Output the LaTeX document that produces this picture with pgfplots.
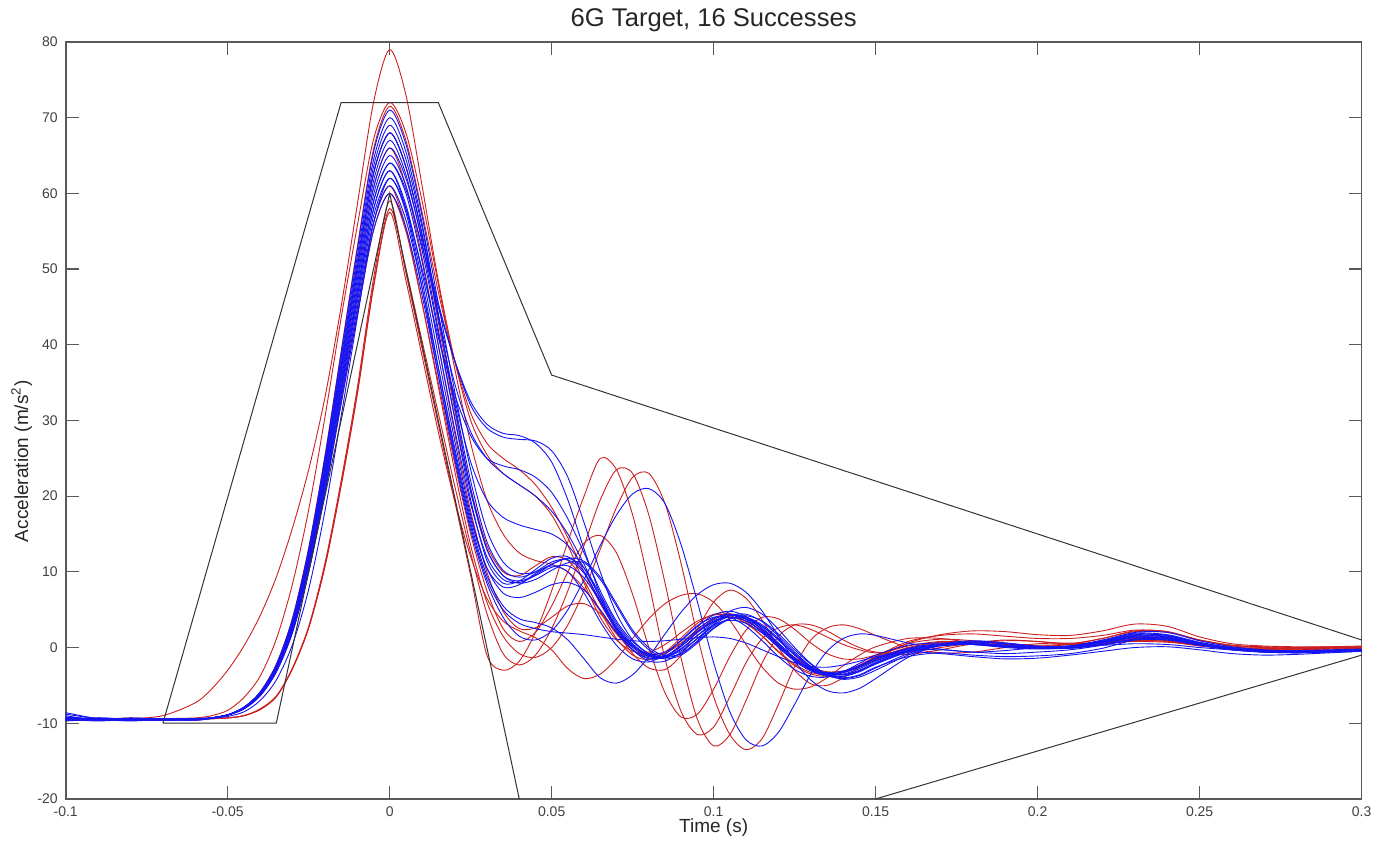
\documentclass[border=0pt]{standalone}
\usepackage{fontspec}
\setmainfont{Liberation Sans}
\usepackage{pgfplots}
\pgfplotsset{compat=1.18}

\definecolor{runblue}{rgb}{0.08,0.08,0.95}
\definecolor{runred}{rgb}{0.80,0.12,0.12}
\definecolor{frame}{gray}{0.35}
\definecolor{corridor}{gray}{0.2}

\pgfplotsset{
  okrun/.style={runblue, line width=0.45pt, smooth, no markers},
  badrun/.style={runred, line width=0.45pt, smooth, no markers},
  limit/.style={corridor, line width=0.5pt, sharp plot, no markers},
}

\begin{document}
\begin{tikzpicture}
\begin{axis}[
  scale only axis,
  width=648.2pt, height=378.6pt,
  xmin=-0.1, xmax=0.3, ymin=-20, ymax=80,
  clip=false,
  axis line style={frame, line width=0.8pt},
  tick style={frame, line width=0.6pt},
  tick align=inside, major tick length=6.5pt,
  xtick={-0.1,-0.05,0,0.05,0.1,0.15,0.2,0.25,0.3},
  xticklabels={-0.1,-0.05,0,0.05,0.1,0.15,0.2,0.25,0.3},
  ytick={-20,-10,0,10,20,30,40,50,60,70,80},
  yticklabels={-20,-10,0,10,20,30,40,50,60,70,80},
  ticklabel style={font=\fontsize{7}{8}\selectfont, text=black!75},
  xticklabel style={yshift=-0.5pt},
  yticklabel style={xshift=-0.5pt},
  title={6G Target, 16 Successes},
  title style={font=\fontsize{12.8}{14}\selectfont, at={(0.5,1)}, anchor=base, yshift=1.6pt, text=black!85},
  xlabel={Time (s)},
  ylabel={Acceleration (m/s\textsuperscript{2})},
  label style={font=\fontsize{9.5}{11}\selectfont, text=black!85},
  xlabel style={at={(axis description cs:0.5,-0.038)}, anchor=center},
  ylabel style={at={(axis description cs:-0.034,0.446)}, anchor=center},
]

% runs outside the corridor
\addplot[badrun] coordinates {
(-0.1,-9.6)(-0.09,-9.5)(-0.08,-9.4)(-0.07,-9.0)(-0.06,-7.3)(-0.055,-5.5)(-0.05,-3)(-0.045,0.2)(-0.04,4.2)(-0.035,9.3)(-0.03,15.8)(-0.025,23.5)(-0.02,33)(-0.015,45)(-0.01,58.5)(-0.005,72)(0,79)
(0.005,73)(0.01,61)(0.015,48.5)(0.02,38)(0.025,30)(0.03,25.5)(0.035,23)(0.04,21.5)(0.045,20)(0.05,17.5)(0.055,13.5)(0.06,8.5)(0.065,4)(0.07,1)(0.075,-0.5)(0.08,-0.6)(0.085,0.4)(0.09,2)(0.095,3.5)
(0.1,4.3)(0.105,4.2)(0.11,3.2)(0.115,1.5)(0.12,-0.5)(0.125,-2.2)(0.13,-3.3)(0.135,-3.6)(0.14,-3.2)(0.145,-2.4)(0.15,-1.4)(0.16,0)(0.17,0.7)(0.18,0.8)(0.19,0.5)(0.2,0.2)(0.21,0.4)(0.22,1.2)(0.23,2.2)(0.24,2.1)(0.25,1)(0.26,0.3)(0.27,0)(0.28,-0.1)(0.29,-0.1)(0.3,0)};
\addplot[badrun] coordinates {
(-0.1,-9.5)(-0.09,-9.6)(-0.08,-9.5)(-0.07,-9.4)(-0.06,-9.3)(-0.055,-9.0)(-0.05,-8.3)(-0.045,-6.6)(-0.04,-3.8)(-0.035,1.1)(-0.03,8.4)(-0.025,18.2)(-0.02,30.4)(-0.015,43.5)(-0.01,55.7)(-0.005,67.1)(0,72)
(0.005,68)(0.01,59)(0.015,48)(0.02,37)(0.025,27)(0.03,19.5)(0.035,15)(0.04,12.5)(0.045,11.5)(0.05,11)(0.055,10)(0.06,7.8)(0.065,4.8)(0.07,1.8)(0.075,-0.3)(0.08,-1.2)(0.085,-0.8)(0.09,0.6)(0.095,2.4)
(0.1,3.8)(0.105,4.3)(0.11,3.8)(0.115,2.4)(0.12,0.5)(0.125,-1.4)(0.13,-2.8)(0.135,-3.4)(0.14,-3.3)(0.145,-2.6)(0.15,-1.6)(0.16,-0.1)(0.17,0.6)(0.18,0.7)(0.19,0.5)(0.2,0.3)(0.21,0.5)(0.22,1.2)(0.23,2.1)(0.24,2.0)(0.25,1.0)(0.26,0.3)(0.27,0.1)(0.28,0)(0.29,0)(0.3,0.1)};
\addplot[badrun] coordinates {
(-0.1,-9.3)(-0.09,-9.5)(-0.08,-9.6)(-0.07,-9.5)(-0.06,-9.5)(-0.055,-9.3)(-0.05,-8.9)(-0.045,-7.9)(-0.04,-5.9)(-0.035,-2.2)(-0.03,3.9)(-0.025,13.2)(-0.02,25.3)(-0.015,39.1)(-0.01,52.9)(-0.005,65.8)(0,71.5)
(0.005,67)(0.01,57.5)(0.015,47)(0.02,38)(0.025,31)(0.03,27)(0.035,25)(0.04,23.5)(0.045,21.5)(0.05,18.5)(0.055,14.5)(0.06,10)(0.065,5.8)(0.07,2.4)(0.075,0.2)(0.08,-0.8)(0.085,-0.6)(0.09,0.6)(0.095,2.2)
(0.1,3.5)(0.105,4)(0.11,3.5)(0.115,2.2)(0.12,0.4)(0.125,-1.3)(0.13,-2.6)(0.135,-3.2)(0.14,-3.1)(0.145,-2.4)(0.15,-1.5)(0.16,0.6)(0.17,1.7)(0.18,2.2)(0.19,2.1)(0.2,1.7)(0.21,1.6)(0.22,2.2)(0.23,3.1)(0.24,2.8)(0.25,1.4)(0.26,0.5)(0.27,0.2)(0.28,0.1)(0.29,0.1)(0.3,0.2)};
\addplot[badrun] coordinates {
(-0.1,-9.4)(-0.09,-9.5)(-0.08,-9.6)(-0.07,-9.5)(-0.06,-9.5)(-0.055,-9.4)(-0.05,-9.3)(-0.045,-9.0)(-0.04,-8.1)(-0.035,-6.4)(-0.03,-2.7)(-0.025,2.8)(-0.02,11.1)(-0.015,22.0)(-0.01,34.3)(-0.005,48.7)(0,59)
(0.005,49.5)(0.01,39.5)(0.015,29.5)(0.02,19.5)(0.025,9.5)(0.03,-1)(0.035,-3)(0.04,-1.8)(0.045,2)(0.05,7.5)(0.055,14)(0.06,20)(0.065,25)(0.07,23.5)(0.075,17.5)(0.08,8.5)(0.085,-1.5)(0.09,-8.5)(0.095,-11.5)
(0.1,-10.5)(0.105,-6.5)(0.11,-2)(0.115,1.2)(0.12,2.6)(0.125,3)(0.13,2.4)(0.135,1.4)(0.14,0.4)(0.145,-0.3)(0.15,-0.7)(0.16,-0.6)(0.17,0)(0.18,0.6)(0.19,1)(0.2,0.8)(0.21,0.5)(0.22,0.7)(0.23,1.2)(0.24,1)(0.25,0.3)(0.26,0)(0.27,-0.1)(0.28,-0.1)(0.29,0)(0.3,0)};
\addplot[badrun] coordinates {
(-0.1,-9.6)(-0.09,-9.4)(-0.08,-9.5)(-0.07,-9.5)(-0.06,-9.5)(-0.055,-9.4)(-0.05,-9.3)(-0.045,-9.0)(-0.04,-8.2)(-0.035,-6.5)(-0.03,-2.8)(-0.025,2.6)(-0.02,10.8)(-0.015,21.5)(-0.01,33.7)(-0.005,47.9)(0,58)
(0.005,50)(0.01,40.5)(0.015,31)(0.02,21.5)(0.025,12.5)(0.03,4.5)(0.035,-0.8)(0.04,-2.3)(0.045,-1)(0.05,2.5)(0.055,7.5)(0.06,13.5)(0.065,19.5)(0.07,23.5)(0.075,23)(0.08,17.5)(0.085,8.5)(0.09,-1.5)(0.095,-9.5)
(0.1,-13)(0.105,-11.5)(0.11,-7)(0.115,-2)(0.12,1.5)(0.125,3)(0.13,3)(0.135,2.2)(0.14,1)(0.145,0)(0.15,-0.6)(0.16,-0.9)(0.17,-0.3)(0.18,0.5)(0.19,0.9)(0.2,0.8)(0.21,0.4)(0.22,0.6)(0.23,1.1)(0.24,0.9)(0.25,0.3)(0.26,-0.1)(0.27,-0.2)(0.28,-0.1)(0.29,0)(0.3,0)};
\addplot[badrun] coordinates {
(-0.1,-9.5)(-0.09,-9.5)(-0.08,-9.3)(-0.07,-9.5)(-0.06,-9.6)(-0.055,-9.3)(-0.05,-8.9)(-0.045,-8.1)(-0.04,-6.3)(-0.035,-3.2)(-0.03,2.1)(-0.025,10.2)(-0.02,20.8)(-0.015,32.8)(-0.01,44.8)(-0.005,56.1)(0,61)
(0.005,55.5)(0.01,45.5)(0.015,34.5)(0.02,23.5)(0.025,13.5)(0.03,6)(0.035,1.5)(0.04,-0.8)(0.045,-1.3)(0.05,0)(0.055,3)(0.06,7.5)(0.065,13)(0.07,18.5)(0.075,22.5)(0.08,23)(0.085,19)(0.09,11)(0.095,1.5)
(0.1,-6.5)(0.105,-11.5)(0.11,-13.5)(0.115,-12)(0.12,-7.5)(0.125,-2.5)(0.13,1)(0.135,2.6)(0.14,3)(0.145,2.5)(0.15,1.6)(0.16,0)(0.17,-0.7)(0.18,-0.6)(0.19,0)(0.2,0.5)(0.21,0.6)(0.22,0.6)(0.23,0.8)(0.24,0.7)(0.25,0.3)(0.26,0)(0.27,-0.1)(0.28,0)(0.29,0.1)(0.3,0.1)};
\addplot[badrun] coordinates {
(-0.1,-9.3)(-0.09,-9.6)(-0.08,-9.5)(-0.07,-9.4)(-0.06,-9.5)(-0.055,-9.3)(-0.05,-8.9)(-0.045,-8.1)(-0.04,-6.4)(-0.035,-3.2)(-0.03,2.0)(-0.025,10.0)(-0.02,20.4)(-0.015,32.2)(-0.01,44.0)(-0.005,55.1)(0,60)
(0.005,55)(0.01,45.5)(0.015,35)(0.02,24.5)(0.025,15)(0.03,7.5)(0.035,2.5)(0.04,0.8)(0.045,2)(0.05,5.5)(0.055,10)(0.06,13.8)(0.065,14.8)(0.07,12.5)(0.075,7)(0.08,0)(0.085,-6)(0.09,-9.2)(0.095,-8.8)
(0.1,-5.5)(0.105,-1.2)(0.11,2.3)(0.115,4)(0.12,3.8)(0.125,2.4)(0.13,0.6)(0.135,-0.8)(0.14,-1.5)(0.145,-1.5)(0.15,-1)(0.16,0.2)(0.17,0.8)(0.18,0.7)(0.19,0.2)(0.2,-0.1)(0.21,0)(0.22,0.5)(0.23,1)(0.24,0.8)(0.25,0.2)(0.26,-0.2)(0.27,-0.3)(0.28,-0.3)(0.29,-0.2)(0.3,-0.1)};
\addplot[badrun] coordinates {
(-0.1,-9.4)(-0.09,-9.5)(-0.08,-9.5)(-0.07,-9.6)(-0.06,-9.5)(-0.055,-9.4)(-0.05,-9.3)(-0.045,-9.0)(-0.04,-8.2)(-0.035,-6.5)(-0.03,-2.8)(-0.025,2.6)(-0.02,10.6)(-0.015,21.3)(-0.01,33.4)(-0.005,47.5)(0,57.5)
(0.005,48.5)(0.01,38.5)(0.015,28.5)(0.02,19.5)(0.025,12)(0.03,6.5)(0.035,3.5)(0.04,2.2)(0.045,1.3)(0.05,-0.3)(0.055,-2.8)(0.06,-4.1)(0.065,-3.5)(0.07,-1.5)(0.075,1.2)(0.08,3.8)(0.085,5.8)(0.09,6.9)(0.095,7.1)
(0.1,6)(0.105,3.6)(0.11,0.4)(0.115,-2.6)(0.12,-4.7)(0.125,-5.5)(0.13,-5.2)(0.135,-4)(0.14,-2.4)(0.145,-1)(0.15,0.1)(0.16,1.2)(0.17,1.2)(0.18,0.6)(0.19,0.1)(0.2,-0.1)(0.21,0)(0.22,0.4)(0.23,0.9)(0.24,0.8)(0.25,0.3)(0.26,-0.1)(0.27,-0.3)(0.28,-0.3)(0.29,-0.2)(0.3,-0.1)};
\addplot[badrun] coordinates {
(-0.1,-9.5)(-0.09,-9.4)(-0.08,-9.6)(-0.07,-9.5)(-0.06,-9.4)(-0.055,-9.3)(-0.05,-8.9)(-0.045,-7.9)(-0.04,-6.0)(-0.035,-2.5)(-0.03,3.3)(-0.025,12.2)(-0.02,23.8)(-0.015,37.0)(-0.01,50.2)(-0.005,62.6)(0,68)
(0.005,63.5)(0.01,54.5)(0.015,43)(0.02,31.5)(0.025,21)(0.03,13.5)(0.035,10)(0.04,9.5)(0.045,10.8)(0.05,12)(0.055,11.5)(0.06,8.8)(0.065,4.8)(0.07,1.2)(0.075,-1)(0.08,-1.6)(0.085,-0.6)(0.09,1.3)(0.095,3.2)
(0.1,4.4)(0.105,4.5)(0.11,3.4)(0.115,1.5)(0.12,-0.6)(0.125,-2.4)(0.13,-3.5)(0.135,-3.8)(0.14,-3.3)(0.145,-2.3)(0.15,-1.2)(0.16,0.8)(0.17,1.6)(0.18,1.8)(0.19,1.5)(0.2,1.2)(0.21,1.2)(0.22,1.6)(0.23,2.3)(0.24,2.1)(0.25,0.9)(0.26,0.2)(0.27,0)(0.28,-0.1)(0.29,0)(0.3,0.1)};
\addplot[badrun] coordinates {
(-0.1,-9.6)(-0.09,-9.5)(-0.08,-9.4)(-0.07,-9.5)(-0.06,-9.5)(-0.055,-9.3)(-0.05,-8.9)(-0.045,-8.0)(-0.04,-6.1)(-0.035,-2.7)(-0.03,3.0)(-0.025,11.6)(-0.02,23.0)(-0.015,35.8)(-0.01,48.6)(-0.005,60.7)(0,66)
(0.005,61)(0.01,51.5)(0.015,40)(0.02,28.5)(0.025,18)(0.03,10)(0.035,4.8)(0.04,2.5)(0.045,2.6)(0.05,4)(0.055,5.5)(0.06,5.8)(0.065,4.5)(0.07,2)(0.075,-0.8)(0.08,-2.7)(0.085,-2.9)(0.09,-1)(0.095,2.5)
(0.1,6)(0.105,7.6)(0.11,6.5)(0.115,3.6)(0.12,0)(0.125,-3)(0.13,-4.8)(0.135,-5)(0.14,-4)(0.145,-2.6)(0.15,-1.3)(0.16,0.5)(0.17,1.1)(0.18,0.9)(0.19,0.4)(0.2,0.1)(0.21,0.2)(0.22,0.7)(0.23,1.4)(0.24,1.3)(0.25,0.5)(0.26,0)(0.27,-0.2)(0.28,-0.2)(0.29,-0.1)(0.3,0)};

% runs inside the corridor
\addplot[okrun] coordinates {
(-0.1,-8.8)(-0.09,-9.4)(-0.08,-9.6)(-0.07,-9.5)(-0.06,-9.4)(-0.055,-9.3)(-0.05,-8.9)(-0.045,-8.0)(-0.04,-6.2)(-0.035,-2.9)(-0.03,2.6)(-0.025,11.1)(-0.02,22.1)(-0.015,34.6)(-0.01,47.1)(-0.005,58.9)(0,64)
(0.005,60.5)(0.01,53)(0.015,45)(0.02,38)(0.025,32.5)(0.03,29.5)(0.035,28.3)(0.04,28)(0.045,27)(0.05,24.5)(0.055,19.5)(0.06,13)(0.065,7)(0.07,2.5)(0.075,0)(0.08,-1.2)(0.085,-1.3)(0.09,-0.2)(0.095,1.6)
(0.1,3.3)(0.105,4.2)(0.11,4)(0.115,2.8)(0.12,1)(0.125,-1)(0.13,-2.6)(0.135,-3.5)(0.14,-3.6)(0.145,-3)(0.15,-2)(0.16,-0.5)(0.17,0.3)(0.18,0.5)(0.19,0.3)(0.2,0)(0.21,0)(0.22,0.6)(0.23,1.4)(0.24,1.2)(0.25,0.4)(0.26,-0.2)(0.27,-0.5)(0.28,-0.5)(0.29,-0.4)(0.3,-0.3)};
\addplot[okrun] coordinates {
(-0.1,-9.6)(-0.09,-9.3)(-0.08,-9.5)(-0.07,-9.6)(-0.06,-9.5)(-0.055,-9.3)(-0.05,-8.9)(-0.045,-8.0)(-0.04,-6.1)(-0.035,-2.7)(-0.03,3.0)(-0.025,11.6)(-0.02,23.0)(-0.015,35.8)(-0.01,48.6)(-0.005,60.7)(0,66)
(0.005,62)(0.01,54)(0.015,45.5)(0.02,38)(0.025,32)(0.03,29)(0.035,27.8)(0.04,27.5)(0.045,27.3)(0.05,26)(0.055,22.5)(0.06,16.5)(0.065,10)(0.07,4.5)(0.075,1)(0.08,-0.8)(0.085,-1.5)(0.09,-1)(0.095,0.6)
(0.1,2.5)(0.105,3.8)(0.11,4.2)(0.115,3.5)(0.12,1.8)(0.125,-0.3)(0.13,-2.2)(0.135,-3.5)(0.14,-4)(0.145,-3.6)(0.15,-2.6)(0.16,-1.2)(0.17,-0.7)(0.18,-1.0)(0.19,-1.2)(0.2,-1.1)(0.21,-0.8)(0.22,-0.1)(0.23,1.0)(0.24,1.2)(0.25,0.4)(0.26,-0.3)(0.27,-0.6)(0.28,-0.7)(0.29,-0.6)(0.3,-0.5)};
\addplot[okrun] coordinates {
(-0.1,-9.2)(-0.09,-9.6)(-0.08,-9.4)(-0.07,-9.5)(-0.06,-9.4)(-0.055,-9.3)(-0.05,-8.9)(-0.045,-8.1)(-0.04,-6.3)(-0.035,-3.1)(-0.03,2.3)(-0.025,10.5)(-0.02,21.2)(-0.015,33.4)(-0.01,45.6)(-0.005,57.0)(0,62)
(0.005,58)(0.01,50)(0.015,41)(0.02,33.5)(0.025,28)(0.03,25)(0.035,24)(0.04,23.5)(0.045,22.5)(0.05,20.5)(0.055,17)(0.06,12.5)(0.065,7.5)(0.07,3.5)(0.075,0.8)(0.08,-0.8)(0.085,-1.2)(0.09,-0.4)(0.095,1.2)
(0.1,2.8)(0.105,3.8)(0.11,3.8)(0.115,2.8)(0.12,1)(0.125,-1)(0.13,-2.7)(0.135,-3.6)(0.14,-3.8)(0.145,-3.2)(0.15,-2.2)(0.16,-0.6)(0.17,0.2)(0.18,0.4)(0.19,0.2)(0.2,-0.1)(0.21,-0.1)(0.22,0.4)(0.23,1.1)(0.24,1.0)(0.25,0.3)(0.26,-0.3)(0.27,-0.6)(0.28,-0.6)(0.29,-0.5)(0.3,-0.4)};
\addplot[okrun] coordinates {
(-0.1,-9.7)(-0.09,-9.5)(-0.08,-9.4)(-0.07,-9.6)(-0.06,-9.5)(-0.055,-9.3)(-0.05,-8.9)(-0.045,-7.9)(-0.04,-6.0)(-0.035,-2.5)(-0.03,3.3)(-0.025,12.2)(-0.02,23.8)(-0.015,37.0)(-0.01,50.2)(-0.005,62.6)(0,68)
(0.005,63.5)(0.01,54.5)(0.015,44)(0.02,35)(0.025,28.5)(0.03,25)(0.035,23)(0.04,21.5)(0.045,20)(0.05,18)(0.055,15)(0.06,11)(0.065,6.5)(0.07,2.5)(0.075,-0.3)(0.08,-1.8)(0.085,-1.8)(0.09,-0.6)(0.095,1.2)
(0.1,3)(0.105,4.2)(0.11,4.4)(0.115,3.4)(0.12,1.5)(0.125,-0.6)(0.13,-2.5)(0.135,-3.7)(0.14,-4.1)(0.145,-3.7)(0.15,-2.7)(0.16,-0.8)(0.17,0.3)(0.18,0.7)(0.19,0.5)(0.2,0.1)(0.21,0.1)(0.22,0.7)(0.23,1.6)(0.24,1.5)(0.25,0.6)(0.26,-0.1)(0.27,-0.5)(0.28,-0.6)(0.29,-0.5)(0.3,-0.4)};
\addplot[okrun] coordinates {
(-0.1,-9.4)(-0.09,-9.5)(-0.08,-9.7)(-0.07,-9.5)(-0.06,-9.5)(-0.055,-9.3)(-0.05,-8.9)(-0.045,-7.9)(-0.04,-5.9)(-0.035,-2.3)(-0.03,3.6)(-0.025,12.8)(-0.02,24.7)(-0.015,38.2)(-0.01,51.7)(-0.005,64.4)(0,70)
(0.005,65.5)(0.01,56)(0.015,44)(0.02,32)(0.025,21)(0.03,13)(0.035,9.5)(0.04,8.8)(0.045,9.6)(0.05,11)(0.055,11.8)(0.06,10.5)(0.065,7)(0.07,3.2)(0.075,0.5)(0.08,-1)(0.085,-1.2)(0.09,0.2)(0.095,2)
(0.1,3.5)(0.105,4.2)(0.11,3.8)(0.115,2.4)(0.12,0.5)(0.125,-1.4)(0.13,-2.9)(0.135,-3.6)(0.14,-3.5)(0.145,-2.8)(0.15,-1.8)(0.16,-0.4)(0.17,0.3)(0.18,0.4)(0.19,0.2)(0.2,0)(0.21,0.2)(0.22,1.0)(0.23,1.9)(0.24,1.7)(0.25,0.7)(0.26,0)(0.27,-0.4)(0.28,-0.5)(0.29,-0.5)(0.3,-0.4)};
\addplot[okrun] coordinates {
(-0.1,-9.0)(-0.09,-9.6)(-0.08,-9.5)(-0.07,-9.4)(-0.06,-9.5)(-0.055,-9.3)(-0.05,-8.9)(-0.045,-8.0)(-0.04,-6.1)(-0.035,-2.6)(-0.03,3.1)(-0.025,11.9)(-0.02,23.4)(-0.015,36.4)(-0.01,49.4)(-0.005,61.6)(0,67)
(0.005,62.5)(0.01,53.5)(0.015,42)(0.02,30.5)(0.025,19.5)(0.03,11.5)(0.035,8.5)(0.04,8.8)(0.045,10.3)(0.05,11.8)(0.055,12)(0.06,10)(0.065,6)(0.07,2.2)(0.075,-0.3)(0.08,-1.5)(0.085,-1.2)(0.09,0.4)(0.095,2.4)
(0.1,3.9)(0.105,4.4)(0.11,3.7)(0.115,2)(0.12,0)(0.125,-1.8)(0.13,-3.1)(0.135,-3.6)(0.14,-3.3)(0.145,-2.5)(0.15,-1.5)(0.16,-0.2)(0.17,0.4)(0.18,0.4)(0.19,0.1)(0.2,-0.1)(0.21,0.1)(0.22,0.8)(0.23,1.6)(0.24,1.4)(0.25,0.5)(0.26,-0.1)(0.27,-0.4)(0.28,-0.5)(0.29,-0.4)(0.3,-0.3)};
\addplot[okrun] coordinates {
(-0.1,-9.5)(-0.09,-9.3)(-0.08,-9.5)(-0.07,-9.6)(-0.06,-9.4)(-0.055,-9.3)(-0.05,-8.9)(-0.045,-8.0)(-0.04,-6.1)(-0.035,-2.8)(-0.03,2.8)(-0.025,11.4)(-0.02,22.5)(-0.015,35.2)(-0.01,47.9)(-0.005,59.8)(0,65)
(0.005,61)(0.01,52.5)(0.015,41.5)(0.02,30.5)(0.025,20.5)(0.03,13)(0.035,9.5)(0.04,8.5)(0.045,9)(0.05,10.2)(0.055,11.2)(0.06,11.2)(0.065,9)(0.07,5.5)(0.075,2)(0.08,-0.3)(0.085,-1.3)(0.09,-0.8)(0.095,0.8)
(0.1,2.6)(0.105,3.8)(0.11,4)(0.115,3)(0.12,1.2)(0.125,-0.8)(0.13,-2.5)(0.135,-3.4)(0.14,-3.6)(0.145,-3.1)(0.15,-2.1)(0.16,-0.5)(0.17,0.3)(0.18,0.5)(0.19,0.3)(0.2,0)(0.21,0)(0.22,0.6)(0.23,1.3)(0.24,1.3)(0.25,0.5)(0.26,-0.2)(0.27,-0.5)(0.28,-0.6)(0.29,-0.5)(0.3,-0.4)};
\addplot[okrun] coordinates {
(-0.1,-9.3)(-0.09,-9.5)(-0.08,-9.4)(-0.07,-9.5)(-0.06,-9.6)(-0.055,-9.3)(-0.05,-8.9)(-0.045,-8.0)(-0.04,-6.2)(-0.035,-3.0)(-0.03,2.5)(-0.025,10.8)(-0.02,21.7)(-0.015,34.0)(-0.01,46.3)(-0.005,57.9)(0,63)
(0.005,58.5)(0.01,49.5)(0.015,38.5)(0.02,27.5)(0.025,17.5)(0.03,10.5)(0.035,7.2)(0.04,6.6)(0.045,7.3)(0.05,8.3)(0.055,8.6)(0.06,7.6)(0.065,5)(0.07,2)(0.075,-0.3)(0.08,-1.4)(0.085,-1.3)(0.09,-0.1)(0.095,1.6)
(0.1,3)(0.105,3.6)(0.11,3.2)(0.115,1.9)(0.12,0.1)(0.125,-1.6)(0.13,-2.8)(0.135,-3.3)(0.14,-3.1)(0.145,-2.4)(0.15,-1.5)(0.16,-0.4)(0.17,-0.3)(0.18,-0.6)(0.19,-0.8)(0.2,-0.6)(0.21,-0.3)(0.22,0.3)(0.23,1.0)(0.24,1.0)(0.25,0.3)(0.26,-0.3)(0.27,-0.6)(0.28,-0.6)(0.29,-0.5)(0.3,-0.4)};
\addplot[okrun] coordinates {
(-0.1,-9.6)(-0.09,-9.4)(-0.08,-9.5)(-0.07,-9.5)(-0.06,-9.5)(-0.055,-9.3)(-0.05,-8.9)(-0.045,-7.9)(-0.04,-6.0)(-0.035,-2.4)(-0.03,3.5)(-0.025,12.5)(-0.02,24.3)(-0.015,37.6)(-0.01,51.0)(-0.005,63.5)(0,69)
(0.005,64.5)(0.01,55.5)(0.015,44)(0.02,32.5)(0.025,22)(0.03,14)(0.035,10.2)(0.04,9.3)(0.045,10)(0.05,11.3)(0.055,11.6)(0.06,9.8)(0.065,6.2)(0.07,2.6)(0.075,0.2)(0.08,-0.9)(0.085,-0.6)(0.09,0.9)(0.095,2.8)
(0.1,4.3)(0.105,4.8)(0.11,4.1)(0.115,2.3)(0.12,0.2)(0.125,-1.7)(0.13,-3)(0.135,-3.5)(0.14,-3.2)(0.145,-2.4)(0.15,-1.4)(0.16,-0.1)(0.17,0.5)(0.18,0.5)(0.19,0.2)(0.2,0)(0.21,0.2)(0.22,0.9)(0.23,1.8)(0.24,1.6)(0.25,0.6)(0.26,-0.1)(0.27,-0.4)(0.28,-0.5)(0.29,-0.4)(0.3,-0.3)};
\addplot[okrun] coordinates {
(-0.1,-9.4)(-0.09,-9.6)(-0.08,-9.3)(-0.07,-9.5)(-0.06,-9.5)(-0.055,-9.3)(-0.05,-8.9)(-0.045,-8.1)(-0.04,-6.3)(-0.035,-3.2)(-0.03,2.1)(-0.025,10.2)(-0.02,20.8)(-0.015,32.8)(-0.01,44.8)(-0.005,56.1)(0,61)
(0.005,56.5)(0.01,47.5)(0.015,37)(0.02,26.5)(0.025,17)(0.03,10.5)(0.035,8)(0.04,8.3)(0.045,9.8)(0.05,10.8)(0.055,10)(0.06,7.2)(0.065,3.4)(0.07,0.3)(0.075,-1.5)(0.08,-1.9)(0.085,-0.9)(0.09,1)(0.095,2.9)
(0.1,4)(0.105,4)(0.11,2.8)(0.115,0.9)(0.12,-1.2)(0.125,-2.9)(0.13,-3.8)(0.135,-3.9)(0.14,-3.2)(0.145,-2.1)(0.15,-1)(0.16,0.3)(0.17,0.6)(0.18,0.4)(0.19,0)(0.2,-0.2)(0.21,0)(0.22,0.6)(0.23,1.3)(0.24,1.2)(0.25,0.4)(0.26,-0.2)(0.27,-0.5)(0.28,-0.5)(0.29,-0.4)(0.3,-0.3)};
\addplot[okrun] coordinates {
(-0.1,-8.6)(-0.09,-9.4)(-0.08,-9.6)(-0.07,-9.5)(-0.06,-9.4)(-0.055,-9.3)(-0.05,-8.9)(-0.045,-7.9)(-0.04,-5.9)(-0.035,-2.3)(-0.03,3.8)(-0.025,13.0)(-0.02,25.1)(-0.015,38.8)(-0.01,52.5)(-0.005,65.4)(0,71)
(0.005,66.5)(0.01,57)(0.015,45.5)(0.02,34)(0.025,23.5)(0.03,15.5)(0.035,11.3)(0.04,9.8)(0.045,10)(0.05,11)(0.055,11.8)(0.06,11.4)(0.065,9.3)(0.07,5.8)(0.075,2.3)(0.08,0)(0.085,-1.1)(0.09,-0.8)(0.095,0.9)
(0.1,3.1)(0.105,4.8)(0.11,5.3)(0.115,4.4)(0.12,2.4)(0.125,0)(0.13,-2.1)(0.135,-3.6)(0.14,-4.2)(0.145,-3.9)(0.15,-3)(0.16,-1)(0.17,0.3)(0.18,0.8)(0.19,0.6)(0.2,0.2)(0.21,0.2)(0.22,0.9)(0.23,2)(0.24,2)(0.25,0.9)(0.26,0.1)(0.27,-0.3)(0.28,-0.5)(0.29,-0.5)(0.3,-0.4)};
\addplot[okrun] coordinates {
(-0.1,-9.5)(-0.09,-9.7)(-0.08,-9.5)(-0.07,-9.4)(-0.06,-9.5)(-0.055,-9.3)(-0.05,-8.9)(-0.045,-8.0)(-0.04,-6.2)(-0.035,-2.9)(-0.03,2.6)(-0.025,11.1)(-0.02,22.1)(-0.015,34.6)(-0.01,47.1)(-0.005,58.9)(0,64)
(0.005,60)(0.01,51)(0.015,40)(0.02,29)(0.025,19)(0.03,12)(0.035,9)(0.04,8.6)(0.045,9.5)(0.05,10.6)(0.055,10.8)(0.06,9.2)(0.065,6)(0.07,2.6)(0.075,0.2)(0.08,-1.1)(0.085,-1.1)(0.09,0.2)(0.095,2)
(0.1,3.4)(0.105,4)(0.11,3.5)(0.115,2.1)(0.12,0.3)(0.125,-1.5)(0.13,-2.8)(0.135,-3.4)(0.14,-3.3)(0.145,-2.6)(0.15,-1.7)(0.16,-0.3)(0.17,0.3)(0.18,0.4)(0.19,0.2)(0.2,0)(0.21,0.1)(0.22,0.7)(0.23,1.5)(0.24,1.4)(0.25,0.5)(0.26,-0.1)(0.27,-0.4)(0.28,-0.5)(0.29,-0.4)(0.3,-0.3)};
\addplot[okrun] coordinates {
(-0.1,-9.5)(-0.09,-9.4)(-0.08,-9.6)(-0.07,-9.5)(-0.06,-9.6)(-0.055,-9.4)(-0.05,-9.1)(-0.045,-8.5)(-0.04,-7.0)(-0.035,-4.3)(-0.03,0.4)(-0.025,7.7)(-0.02,18)(-0.015,30.5)(-0.01,43.5)(-0.005,56)(0,62)
(0.005,57.5)(0.01,47.5)(0.015,36)(0.02,25)(0.025,15.5)(0.03,8.5)(0.035,4)(0.04,1.5)(0.045,1)(0.05,2.2)(0.055,5)(0.06,9)(0.065,13.5)(0.07,17.5)(0.075,20.3)(0.08,21)(0.085,19)(0.09,13.5)(0.095,6)
(0.1,-2)(0.105,-8.5)(0.11,-12.2)(0.115,-13)(0.12,-11.2)(0.125,-7.5)(0.13,-3.5)(0.135,-0.5)(0.14,1.2)(0.145,1.8)(0.15,1.6)(0.16,0.6)(0.17,-0.2)(0.18,-0.6)(0.19,-0.4)(0.2,0)(0.21,0.2)(0.22,0.3)(0.23,0.5)(0.24,0.4)(0.25,0)(0.26,-0.3)(0.27,-0.4)(0.28,-0.4)(0.29,-0.3)(0.3,-0.2)};
\addplot[okrun] coordinates {
(-0.1,-9.3)(-0.09,-9.5)(-0.08,-9.5)(-0.07,-9.6)(-0.06,-9.4)(-0.055,-9.3)(-0.05,-8.9)(-0.045,-8.0)(-0.04,-6.2)(-0.035,-3.0)(-0.03,2.5)(-0.025,10.8)(-0.02,21.7)(-0.015,34.0)(-0.01,46.3)(-0.005,57.9)(0,63)
(0.005,58)(0.01,48.5)(0.015,37)(0.02,26)(0.025,16.5)(0.03,9.5)(0.035,5.5)(0.04,3.8)(0.045,3.3)(0.05,2.6)(0.055,1)(0.06,-1.5)(0.065,-4)(0.07,-4.7)(0.075,-3.6)(0.08,-1.2)(0.085,1.8)(0.09,4.7)(0.095,7)
(0.1,8.3)(0.105,8.5)(0.11,7.3)(0.115,4.8)(0.12,1.5)(0.125,-1.8)(0.13,-4.3)(0.135,-5.7)(0.14,-6)(0.145,-5.4)(0.15,-4.1)(0.16,-1.3)(0.17,0.4)(0.18,0.9)(0.19,0.6)(0.2,0.1)(0.21,-0.1)(0.22,0.4)(0.23,1.1)(0.24,1.1)(0.25,0.4)(0.26,-0.2)(0.27,-0.6)(0.28,-0.7)(0.29,-0.6)(0.3,-0.5)};
\addplot[okrun] coordinates {
(-0.1,-9.4)(-0.09,-9.5)(-0.08,-9.4)(-0.07,-9.5)(-0.06,-9.5)(-0.055,-9.3)(-0.05,-8.9)(-0.045,-8.1)(-0.04,-6.4)(-0.035,-3.2)(-0.03,2.0)(-0.025,10.0)(-0.02,20.4)(-0.015,32.2)(-0.01,44.0)(-0.005,55.1)(0,60)
(0.005,55.5)(0.01,46.5)(0.015,36)(0.02,25.5)(0.025,16)(0.03,9)(0.035,5)(0.04,3.2)(0.045,2.5)(0.05,2.1)(0.055,1.9)(0.06,1.7)(0.065,1.4)(0.07,1.1)(0.075,0.9)(0.08,0.8)(0.085,0.9)(0.09,1.1)(0.095,1.3)
(0.1,1.4)(0.105,1.2)(0.11,0.6)(0.115,-0.3)(0.12,-1.2)(0.125,-2)(0.13,-2.5)(0.135,-2.6)(0.14,-2.3)(0.145,-1.8)(0.15,-1.2)(0.16,-0.6)(0.17,-0.8)(0.18,-1.2)(0.19,-1.5)(0.2,-1.4)(0.21,-1.0)(0.22,-0.5)(0.23,0)(0.24,0.1)(0.25,-0.3)(0.26,-0.8)(0.27,-1.0)(0.28,-0.9)(0.29,-0.7)(0.3,-0.5)};
\addplot[okrun] coordinates {
(-0.1,-9.2)(-0.09,-9.4)(-0.08,-9.5)(-0.07,-9.5)(-0.06,-9.5)(-0.055,-9.3)(-0.05,-8.9)(-0.045,-7.9)(-0.04,-6.0)(-0.035,-2.5)(-0.03,3.3)(-0.025,12.2)(-0.02,23.8)(-0.015,37.0)(-0.01,50.2)(-0.005,62.6)(0,68)
(0.005,63.5)(0.01,54.5)(0.015,43.5)(0.02,33)(0.025,24.5)(0.03,19.5)(0.035,17.2)(0.04,16.2)(0.045,15.6)(0.05,15)(0.055,13.5)(0.06,10.5)(0.065,6.6)(0.07,2.9)(0.075,0.3)(0.08,-1.1)(0.085,-1.1)(0.09,0.2)(0.095,2.1)
(0.1,3.7)(0.105,4.4)(0.11,4)(0.115,2.6)(0.12,0.6)(0.125,-1.4)(0.13,-3)(0.135,-3.8)(0.14,-3.8)(0.145,-3.1)(0.15,-2)(0.16,-0.4)(0.17,0.4)(0.18,0.6)(0.19,0.3)(0.2,0)(0.21,0.1)(0.22,0.8)(0.23,1.7)(0.24,1.6)(0.25,0.6)(0.26,-0.1)(0.27,-0.4)(0.28,-0.5)(0.29,-0.5)(0.3,-0.4)};

% acceptance corridor
\addplot[limit] coordinates {(-0.07,-10)(-0.015,72)(0.015,72)(0.05,36)(0.3,1)};
\addplot[limit] coordinates {(-0.07,-10)(-0.035,-10)(0,60)(0.04,-20)};
\addplot[limit] coordinates {(0.15,-20)(0.3,-1)};

% page extent
\path (rel axis cs:-0.0507,-0.0568) rectangle (rel axis cs:1.0126,1.0555);
\end{axis}
\end{tikzpicture}
\end{document}
